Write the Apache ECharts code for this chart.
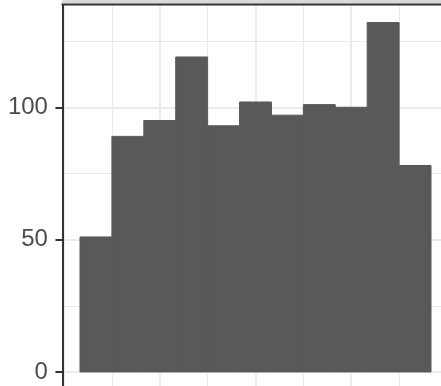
<!DOCTYPE html>
<html>
<head>
<meta charset="utf-8">
<script src="https://cdn.jsdelivr.net/npm/echarts@6/dist/echarts.min.js"></script>
<style>html,body{margin:0;padding:0;background:#fff}#c{width:441px;height:386px}</style>
</head>
<body>
<div id="c"></div>
<script>
// Histogram bins (bin index units) and counts
const binStart = [0, 1, 2, 3, 4, 5, 6, 7, 8, 9, 10];
const binWidth = 1;
const counts = [51, 89, 95, 119, 93, 102, 97, 101, 100, 132, 78];
// Tick / grid values
const yTickLabels = [0, 50, 100];
const yMinorGrid = [25, 75, 125];
const xMajorGrid = [-0.5, 2.5, 5.5, 8.5, 11.5];
const xMinorGrid = [1, 4, 7, 10];

const xMin = -0.55, xMax = 11.55;
const yMin = -6.6, yMax = 138.6;

const chart = echarts.init(document.getElementById('c'), null, {renderer: 'canvas'});

const gridLines = [];
yTickLabels.forEach(v => gridLines.push({yAxis: v, lineStyle: {width: 2, color: '#ebebeb', type: 'solid'}}));
yMinorGrid.forEach(v => gridLines.push({yAxis: v, lineStyle: {width: 1.1, color: '#ebebeb', type: 'solid'}}));
xMajorGrid.forEach(v => gridLines.push({xAxis: v, lineStyle: {width: 2, color: '#ebebeb', type: 'solid'}}));
xMinorGrid.forEach(v => gridLines.push({xAxis: v, lineStyle: {width: 1.1, color: '#ebebeb', type: 'solid'}}));

const barData = binStart.map((s, i) => [s, s + binWidth, counts[i]]);

chart.setOption({
  animation: false,
  grid: {left: 62.45, top: 5.1, width: 386.1, height: 384.3, show: false, containLabel: false, outerBoundsMode: 'none'},
  xAxis: {
    type: 'value', min: xMin, max: xMax,
    axisLine: {show: false, onZero: false}, axisTick: {show: false}, axisLabel: {show: false}, splitLine: {show: false}
  },
  yAxis: {
    type: 'value', min: yMin, max: yMax, z: 10,
    axisLine: {show: true, onZero: false, lineStyle: {color: '#333333', width: 2}},
    axisTick: {show: true, length: 7, lineStyle: {color: '#333333', width: 2}, customValues: yTickLabels},
    axisLabel: {show: true, customValues: yTickLabels, margin: 14.5, fontSize: 24, color: '#4d4d4d', fontFamily: 'Liberation Sans, Arial, sans-serif'},
    splitLine: {show: false}
  },
  series: [
    {
      type: 'line', data: [], z: 1, silent: true,
      markLine: {z: 1, silent: true, symbol: ['none', 'none'], label: {show: false}, animation: false,
        lineStyle: {type: 'solid'}, emphasis: {disabled: true}, data: gridLines}
    },
    {
      type: 'custom', z: 3,
      data: barData,
      renderItem: function (params, api) {
        const p0 = api.coord([api.value(0), api.value(2)]);
        const p1 = api.coord([api.value(1), 0]);
        return {type: 'rect', shape: {x: p0[0], y: p0[1], width: p1[0] - p0[0], height: p1[1] - p0[1]},
          style: {fill: '#595959', stroke: '#595959', lineWidth: 1}};
      }
    }
  ],
  graphic: [
    {type: 'rect', z: 100, left: 62, top: 0, shape: {width: 400, height: 3.5}, style: {fill: '#d9d9d9'}},
    {type: 'rect', z: 101, left: 61.5, top: 3.4, shape: {width: 400, height: 2.2}, style: {fill: '#333333'}}
  ]
});
</script>
</body>
</html>
